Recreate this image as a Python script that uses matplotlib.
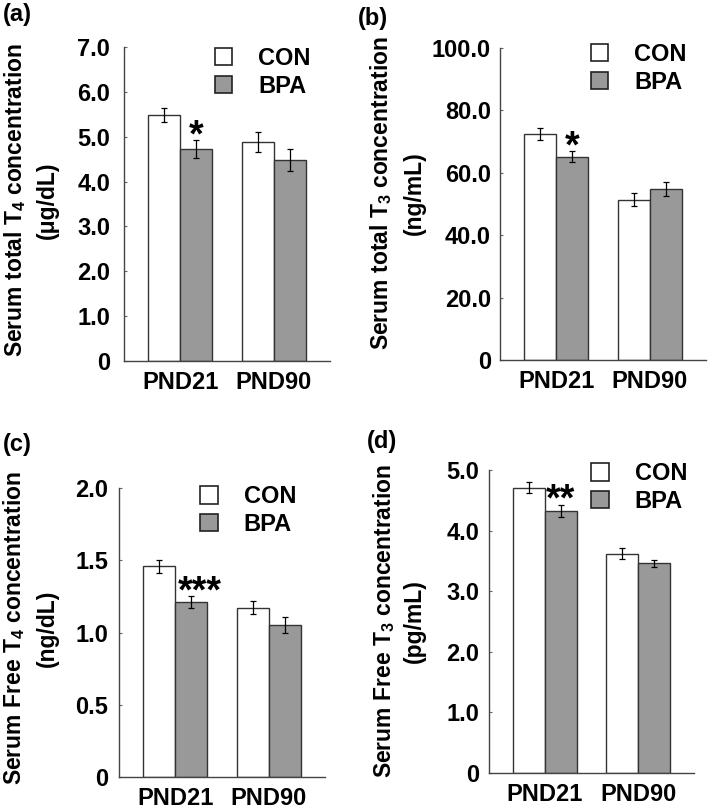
import matplotlib
matplotlib.use("Agg")
import matplotlib.pyplot as plt
from matplotlib.patches import Patch
import numpy as np

plt.rcParams['font.family'] = ['Liberation Sans', 'DejaVu Sans']
plt.rcParams['font.weight'] = 'bold'
plt.rcParams['mathtext.fontset'] = 'custom'
plt.rcParams['mathtext.rm'] = 'Liberation Sans:bold'
plt.rcParams['mathtext.it'] = 'Liberation Sans:bold'
plt.rcParams['mathtext.bf'] = 'Liberation Sans:bold'

groups = ['PND21', 'PND90']

t4_con = [5.48, 4.88]
t4_con_err = [0.16, 0.22]
t4_bpa = [4.72, 4.48]
t4_bpa_err = [0.20, 0.24]

t3_con = [72.5, 51.4]
t3_con_err = [1.9, 2.2]
t3_bpa = [65.2, 54.8]
t3_bpa_err = [1.7, 2.1]

ft4_con = [1.457, 1.172]
ft4_con_err = [0.046, 0.047]
ft4_bpa = [1.21, 1.05]
ft4_bpa_err = [0.04, 0.054]

ft3_con = [4.71, 3.62]
ft3_con_err = [0.095, 0.095]
ft3_bpa = [4.33, 3.46]
ft3_bpa_err = [0.10, 0.06]

W, H = 709, 806
fig = plt.figure(figsize=(W / 100, H / 100), dpi=100)


def fx(px):
    return px / W


def fy(py):
    return 1 - py / H


def panel(box, con, con_err, bpa, bpa_err, ymax, ticks, ticklabels,
          label1, label2, lab_x1, lab_x2, lab_y, letter, letter_xy,
          stars, star_dx, leg_xy, ypad):
    l, t, r, b = box
    ax = fig.add_axes([fx(l), fy(b), fx(r) - fx(l), fy(t) - fy(b)])
    x = np.arange(len(groups))
    w = 0.34
    ax.bar(x - w / 2, con, w, color='white', edgecolor='#333333', linewidth=1.0,
           label='CON', zorder=2)
    ax.bar(x + w / 2, bpa, w, color='#999999', edgecolor='#333333', linewidth=1.0,
           label='BPA', zorder=2)
    ax.errorbar(x - w / 2, con, yerr=con_err, fmt='none', ecolor='black',
                elinewidth=0.9, capsize=2, capthick=0.9, zorder=3)
    ax.errorbar(x + w / 2, bpa, yerr=bpa_err, fmt='none', ecolor='black',
                elinewidth=0.9, capsize=2, capthick=0.9, zorder=3)
    ax.set_xlim(-0.6, 1.6)
    ax.set_ylim(0, ymax)
    ax.set_yticks(ticks)
    ax.set_yticklabels(ticklabels)
    ax.set_xticks(x)
    ax.set_xticklabels(groups)
    for s in ['top', 'right']:
        ax.spines[s].set_visible(False)
    for s in ['left', 'bottom']:
        ax.spines[s].set_color('#444444')
        ax.spines[s].set_linewidth(1.0)
    ax.tick_params(axis='y', direction='in', length=2, width=0.8, color='#666666',
                   pad=ypad, labelsize=17)
    ax.tick_params(axis='x', length=0, pad=7, labelsize=17)

    # significance marks
    ax.annotate(stars, xy=(0 + w / 2, bpa[0] + bpa_err[0]),
                xytext=(star_dx, 3), textcoords='offset points',
                ha='center', va='center', fontsize=27, fontweight='bold')

    handles = [Patch(facecolor='white', edgecolor='#222222', linewidth=1.2),
               Patch(facecolor='#999999', edgecolor='#222222', linewidth=1.2)]
    ax.legend(handles, ['CON', 'BPA'], loc='upper left', bbox_to_anchor=leg_xy,
              frameon=False, prop={'size': 17, 'weight': 'bold'},
              handlelength=0.75, handleheight=0.75,
              handletextpad=1.1, labelspacing=0.2, borderpad=0, borderaxespad=0)

    fig.text(fx(lab_x1), fy(lab_y), label1, rotation=90, ha='center', va='center',
             fontsize=16.5, fontweight='bold')
    fig.text(fx(lab_x2), fy(lab_y), label2, rotation=90, ha='center', va='center',
             fontsize=16.5, fontweight='bold')
    fig.text(fx(letter_xy[0]), fy(letter_xy[1]), letter, ha='left', va='center',
             fontsize=17, fontweight='bold')
    return ax


panel((124, 47, 330, 361), t4_con, t4_con_err, t4_bpa, t4_bpa_err, 7,
      np.arange(0, 8, 1), ['0', '1.0', '2.0', '3.0', '4.0', '5.0', '6.0', '7.0'],
      'Serum total T$_{4}$ concentration', '(μg/dL)', 15, 47, 200,
      '(a)', (3, 15), '*', 0, (0.44, 1.0), 10)

panel((500, 48, 706, 360), t3_con, t3_con_err, t3_bpa, t3_bpa_err, 100,
      np.arange(0, 101, 20), ['0', '20.0', '40.0', '60.0', '80.0', '100.0'],
      'Serum total T$_{3}$ concentration', '(ng/mL)', 381, 414, 193,
      '(b)', (358, 19), '*', 0, (0.44, 1.016), 6.5)

panel((119, 488, 325, 777), ft4_con, ft4_con_err, ft4_bpa, ft4_bpa_err, 2,
      np.arange(0, 2.01, 0.5), ['0', '0.5', '1.0', '1.5', '2.0'],
      'Serum Free T$_{4}$ concentration', '(ng/dL)', 14, 47, 628,
      '(c)', (3, 444), '***', 6, (0.393, 1.01), 8)

panel((489, 470, 694, 773), ft3_con, ft3_con_err, ft3_bpa, ft3_bpa_err, 5,
      np.arange(0, 6, 1), ['0', '1.0', '2.0', '3.0', '4.0', '5.0'],
      'Serum Free T$_{3}$ concentration', '(pg/mL)', 384, 414, 621,
      '(d)', (367, 442), '**', 0, (0.498, 1.026), 7)

fig.savefig('out.png', dpi=100)
